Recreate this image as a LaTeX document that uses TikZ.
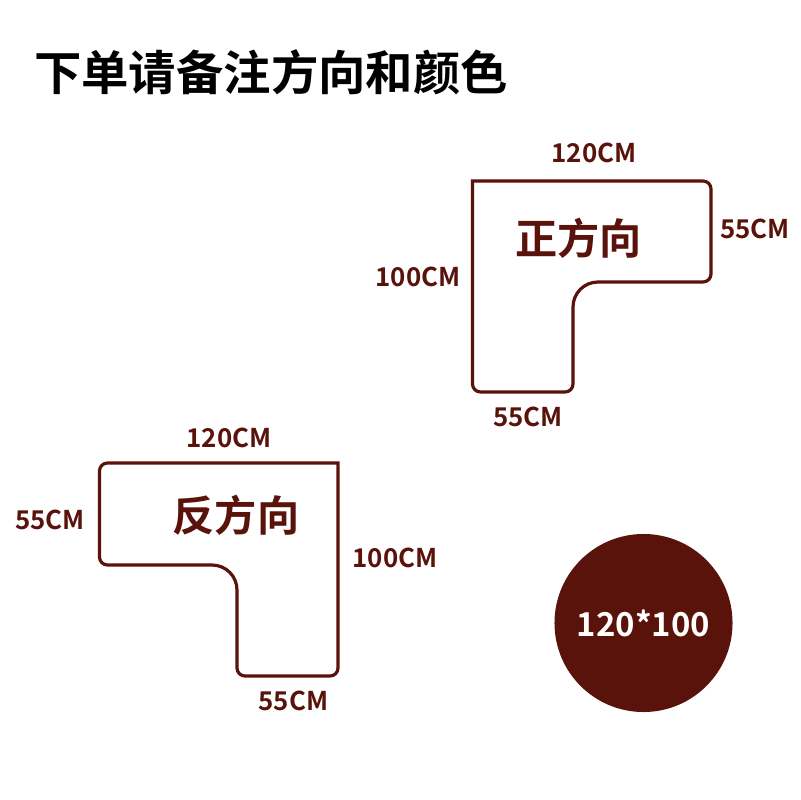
\documentclass[tikz,border=0pt]{standalone}
\usepackage{fontspec}
\setmainfont{Noto Sans CJK SC}[BoldFont={Noto Sans CJK SC Bold}]
\definecolor{maroon}{HTML}{5A130B}
\tikzset{
	sizelabel/.style={text=maroon,font=\fontsize{18.4}{20}\selectfont\bfseries,inner sep=0pt},
	sidelabel/.style={text=maroon,font=\fontsize{30}{32}\selectfont\bfseries,inner sep=0pt},
	outline/.style={draw=maroon,line width=0.08cm}
}
\begin{document}
\begin{tikzpicture}[x=0.025cm,y=-0.025cm]
	\useasboundingbox (0,0) rectangle (800,800);
	\def\rightshape{(472.5,181) -- (703,181) arc (-90:0:8) -- (711,274) arc (0:90:8) -- (598,282) arc (-90:-180:25) -- (573,384) arc (0:90:8) -- (480.5,392) arc (90:180:8) -- cycle}
	\def\leftshape{(338,463) -- (107.5,463) arc (-90:-180:8) -- (99.5,557) arc (180:90:8) -- (212,565) arc (-90:0:25) -- (237,668) arc (180:90:8) -- (330,676) arc (90:0:8) -- cycle}
	\node[inner sep=0pt,font=\fontsize{33.7}{36}\selectfont\bfseries] (title) at (271,72) {下单请备注方向和颜色};
	\draw[outline] \rightshape;
	\draw[outline] \leftshape;
	\node[sidelabel] (forward) at (578.5,238) {正方向};
	\node[sidelabel] (reverse) at (236,515) {反方向};
	\node[sizelabel] (topA) at (594,153) {120CM};
	\node[sizelabel] (sideA) at (755,229) {55CM};
	\node[sizelabel] (longA) at (418,277) {100CM};
	\node[sizelabel] (bottomA) at (528,417) {55CM};
	\node[sizelabel] (topB) at (229,438) {120CM};
	\node[sizelabel] (sideB) at (50,520) {55CM};
	\node[sizelabel] (longB) at (395,558) {100CM};
	\node[sizelabel] (bottomB) at (293.5,701) {55CM};
	\node[circle,fill=maroon,minimum size=4.45cm,inner sep=0pt,text=white,font=\fontsize{23.4}{26}\selectfont\bfseries] (size) at (643.5,623) {120*100};
\end{tikzpicture}
\end{document}
